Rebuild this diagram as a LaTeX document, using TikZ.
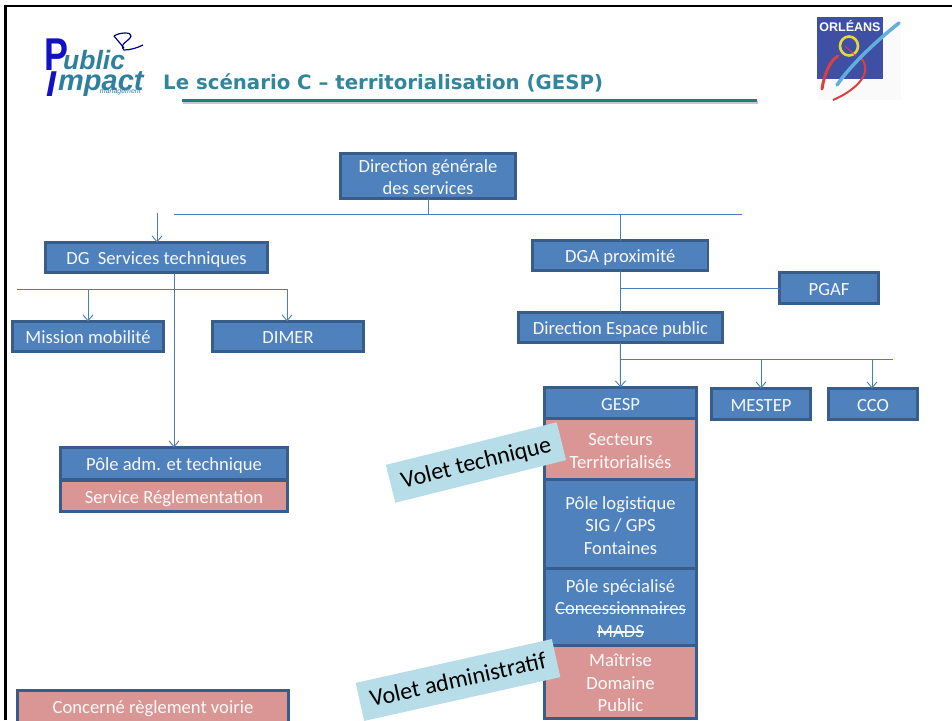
\documentclass[tikz,border=0pt]{standalone}
\usepackage{fontspec}
\usetikzlibrary{arrows.meta}
\setmainfont{Carlito}
\newfontfamily\titlefont{DejaVu Sans}
\newfontfamily\logofont{Liberation Sans}
\definecolor{bluefill}{HTML}{4F81BD}
\definecolor{blueedge}{HTML}{385D8A}
\definecolor{pinkfill}{HTML}{D99694}
\definecolor{tagfill}{HTML}{B7DEE8}
\definecolor{linkcol}{HTML}{4A7EBB}
\definecolor{titlecol}{HTML}{31859C}
\definecolor{rulecol}{HTML}{16827F}
\definecolor{orlblue}{HTML}{3F4FA3}
\definecolor{orlred}{HTML}{DD3F3F}
\definecolor{orlsky}{HTML}{5FB0DC}
\definecolor{orlyel}{HTML}{E6D83A}
\definecolor{logoblue}{HTML}{1212C4}
\definecolor{logoteal}{HTML}{2F7F9F}
\newcommand{\strk}[1]{\setbox0\hbox{#1}\rlap{\rule[0.24em]{\wd0}{0.07em}}\box0 }
\newcommand{\bx}[7]{%
  \pgfmathsetmacro{\cxx}{(#2+#4)/2}\pgfmathsetmacro{\cyy}{(#3+#5)/2}%
  \pgfmathsetmacro{\www}{#4-#2-1}\pgfmathsetmacro{\hhh}{#5-#3-1}%
  \node[#6,minimum width=\www pt,minimum height=\hhh pt] (#1) at (\cxx,\cyy) {\raisebox{-7.15pt}[0pt][0pt]{\begin{tabular}{@{}c@{}}#7\end{tabular}}};}
\tikzset{
  orgbox/.style={draw=blueedge,line width=2.6pt,fill=bluefill,text=white!94!bluefill,inner sep=0pt,outer sep=0pt,font=\fontsize{18.6}{22.4}\selectfont},
  redbox/.style={orgbox,fill=pinkfill,text=white!94!pinkfill},
  tagbox/.style={fill=tagfill,text=black,inner sep=0pt,outer sep=0pt,font=\fontsize{24}{26}\selectfont},
  link/.style={draw=linkcol,line width=1pt},
  arrowlink/.style={link,-{Straight Barb[length=6pt,width=10pt,line width=0.9pt]}},
}
\begin{document}
\begin{tikzpicture}[x=1pt,y=-1pt]
\useasboundingbox (0,0) rectangle (952,720);
\clip (0,0) rectangle (952,720);
\fill[white] (0,0) rectangle (952,720);
% frame
\draw[black,line width=2.6pt] (5.5,720) -- (5.5,6) -- (952,6);
% logo Public Impact
\node[anchor=base west,inner sep=0pt,xscale=0.78,text=logoblue,font=\logofont\bfseries\fontsize{46}{46}\selectfont] (logoP) at (44,70) {P};
\node[anchor=base west,inner sep=0pt,text=logoteal,font=\logofont\bfseries\itshape\fontsize{26.5}{29}\selectfont] (logoU) at (63,69) {ublic};
\node[anchor=base west,inner sep=0pt,text=logoblue,font=\logofont\bfseries\itshape\fontsize{36}{36}\selectfont] (logoI) at (46,96) {I};
\node[anchor=base west,inner sep=0pt,text=logoteal,font=\logofont\bfseries\itshape\fontsize{29}{30}\selectfont] (logoM) at (58,90) {mpact};
\node[anchor=base east,inner sep=0pt,text=logoteal,font=\logofont\itshape\fontsize{7}{7}\selectfont] (logoS) at (141,93.5) {management};
\draw[blue!50!black,line width=1.2pt] (114,36) .. controls (120,32) and (132,32) .. (131,36) .. controls (130,41) and (118,44) .. (124,50) .. controls (130,50) and (137,48) .. (143,45);
\draw[blue!50!black,line width=1.2pt] (114,36) -- (124,48);
% logo Orleans
\fill[white!98!black] (817,17) rectangle (901,100);
\fill[orlblue] (817,17) rectangle (883,79);
\draw[orlred,line width=3pt,line cap=round] (822,89) .. controls (824,75) and (830,60) .. (838,56);
\draw[orlred,line width=2pt] (833,100) .. controls (852,92) and (868,78) .. (865,66) .. controls (864,62) and (863,60) .. (861,58);
\draw[orlyel,line width=2.6pt] (849,46) ellipse (9 and 9.5);
\draw[orlred,line width=0.8pt] (845,46) -- (856,56);
\draw[orlsky,line width=3.5pt,line cap=round] (837,85) .. controls (850,66) and (875,42) .. (899,23);
\node[inner sep=0pt,text=white,font=\logofont\bfseries\fontsize{12.5}{13}\selectfont] (orl) at (850,26.5) {ORLÉANS};
% title
\node[anchor=base west,inner sep=0pt,text=titlecol,font=\titlefont\bfseries\fontsize{19.75}{24}\selectfont] (title) at (163,89) {Le scénario C – territorialisation (GESP)};
\fill[gray!45] (183,101) rectangle (758,104);
\fill[rulecol] (182,98.5) rectangle (757,101.5);
% links under boxes
\coordinate (hl) at (174,214);
\coordinate (hr) at (742,214);
\coordinate (ta) at (157,213);
\coordinate (gl) at (17,289);
\coordinate (gr) at (287,289);
\coordinate (gm) at (88,289);
\coordinate (dl) at (893,359);
\coordinate (dc) at (872,359);
% boxes
\bx{dgs}{340}{153}{516}{199}{orgbox}{Direction générale\\des services}
\bx{dgst}{45}{242}{268}{273}{orgbox}{DG\hspace{0.45em}Services techniques}
\bx{mission}{12}{321}{164}{352}{orgbox}{Mission mobilité}
\bx{dimer}{212}{321}{364}{352}{orgbox}{DIMER}
\bx{dga}{532}{240}{708.5}{271}{orgbox}{DGA proximité}
\bx{pgaf}{779}{272}{879}{304}{orgbox}{PGAF}
\bx{dep}{518}{312}{723}{343}{orgbox}{Direction Espace public}
\bx{mestep}{711}{388}{811}{420}{orgbox}{MESTEP}
\bx{cco}{828}{388}{918}{420}{orgbox}{CCO}
\bx{polea}{60}{447}{288}{480}{orgbox}{Pôle adm. et technique}
\bx{servr}{60}{480}{288}{512}{redbox}{Service Réglementation}
\bx{conc}{17}{690}{289}{730}{redbox}{}
\node[anchor=base,text=white!94!pinkfill,inner sep=0pt,font=\fontsize{18.6}{22.4}\selectfont] (conct) at (153,713) {Concerné règlement voirie};
\bx{gesp}{544}{387}{697}{420}{orgbox}{GESP}
\bx{sect}{544}{418}{697}{481}{redbox}{Secteurs\\Territorialisés}
\bx{plog}{544}{479}{697}{570}{orgbox}{Pôle logistique\\SIG / GPS\\Fontaines}
\bx{pspe}{544}{568}{697}{647}{orgbox}{Pôle spécialisé\\\strk{Concessionnaires}\\\strk{MADS}}
\bx{mait}{544}{645}{697}{719}{redbox}{Maîtrise\\Domaine\\Public}
% connectors
\draw[link] (dgs.south) -- (dgs.south |- hl);
\draw[link] (hl) -- (hr);
\draw[link] (dga.north) -- (dga.north |- hl);
\draw[arrowlink] (ta) -- (ta |- dgst.north);
\draw[link] (gl) -- (gr);
\draw[arrowlink] (gm) -- (gm |- mission.north);
\draw[arrowlink] (gr) -- (gr |- dimer.north);
\draw[arrowlink] (polea.north |- dgst.south) -- (polea.north);
\draw[link] (dga.south) -- (dga.south |- dep.north);
\draw[link] (dga.south |- pgaf.west) -- (pgaf.west);
\draw[arrowlink] (dga.south |- dep.south) -- (gesp.north);
\draw[link] (gesp.north |- dl) -- (dl);
\draw[arrowlink] (mestep.north |- dl) -- (mestep.north);
\draw[arrowlink] (dc) -- (dc |- cco.north);
% tags
\node[tagbox,rotate=14,minimum width=176pt,minimum height=39pt] (volt) at (476,462.5) {\raisebox{-7.5pt}[0pt][0pt]{Volet technique}};
\node[tagbox,rotate=12.6,minimum width=201pt,minimum height=39pt] (vola) at (458,680) {\raisebox{-7.5pt}[0pt][0pt]{Volet administratif}};
\end{tikzpicture}
\end{document}
